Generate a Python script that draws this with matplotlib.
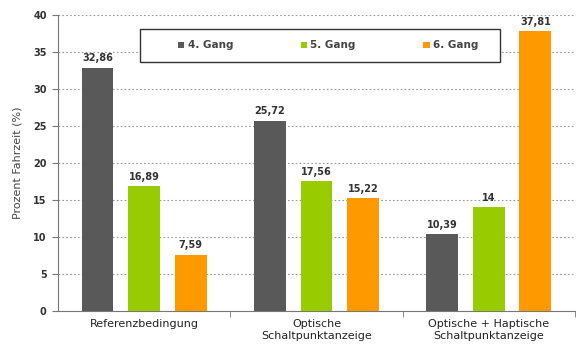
import matplotlib.pyplot as plt
import matplotlib.patches as mpatches
import numpy as np

# data
categories = ["Referenzbedingung", "Optische\nSchaltpunktanzeige", "Optische + Haptische\nSchaltpunktanzeige"]
series = ["4. Gang", "5. Gang", "6. Gang"]
gang4 = [32.86, 25.72, 10.39]
gang5 = [16.89, 17.56, 14]
gang6 = [7.59, 15.22, 37.81]
value_text = [["32,86", "25,72", "10,39"],
              ["16,89", "17,56", "14"],
              ["7,59", "15,22", "37,81"]]
colors = ["#595959", "#99cc00", "#ff9900"]

fig = plt.figure(figsize=(5.78, 3.49), dpi=100)
ax = fig.add_axes([0.100, 0.109, 0.895, 0.848])

x = np.arange(len(categories))
width = 0.185
offsets = [-0.27, 0, 0.27]
bars = []
for i, vals in enumerate([gang4, gang5, gang6]):
    b = ax.bar(x + offsets[i], vals, width, color=colors[i], label=series[i], zorder=3)
    bars.append(b)
    for xi, v, t in zip(x, vals, value_text[i]):
        ax.text(xi + offsets[i], v + 0.6, t, ha="center", va="bottom",
                fontsize=7, fontweight="bold", color="#333333")

ax.set_xlim(-0.5, 2.5)
ax.set_ylim(0, 40)
ax.set_yticks(np.arange(0, 41, 5))
ax.yaxis.grid(True, linestyle=(0, (1.5, 2)), color="#999999", linewidth=0.8, zorder=0)
ax.set_axisbelow(True)

ax.set_xticks(x)
ax.set_xticklabels(categories, fontsize=8, color="#222222")
ax.tick_params(axis="x", which="major", length=0, pad=6)
ax.set_xticks([0.5, 1.5, 2.5], minor=True)
ax.tick_params(axis="x", which="minor", length=4, color="#777777")
ax.tick_params(axis="y", length=4, color="#777777", labelsize=7, pad=4)
for lab in ax.get_yticklabels():
    lab.set_fontweight("bold")
    lab.set_color("#333333")

ax.set_ylabel("Prozent Fahrzeit (%)", fontsize=8, color="#444444", labelpad=8)

for s in ["top", "right"]:
    ax.spines[s].set_visible(False)
ax.spines["left"].set_color("#777777")
ax.spines["bottom"].set_color("#777777")

# legend box drawn by hand, entries on top
box = mpatches.Rectangle((140 / 578, 1 - 62 / 349), 360 / 578, 33 / 349,
                         transform=fig.transFigure, facecolor="white",
                         edgecolor="#333333", linewidth=1.0, zorder=5)
fig.patches.append(box)
leg = fig.legend(handles=bars, labels=series, loc="center left",
                 bbox_to_anchor=(173 / 578, 1 - 45.5 / 349), ncol=3,
                 frameon=False, fontsize=7.5, handlelength=0.6, handleheight=0.6,
                 handletextpad=0.3, columnspacing=6.5, borderpad=0)
leg.set_zorder(6)
for t in leg.get_texts():
    t.set_fontweight("bold")
    t.set_color("#444444")

plt.savefig("out.png", dpi=100)
